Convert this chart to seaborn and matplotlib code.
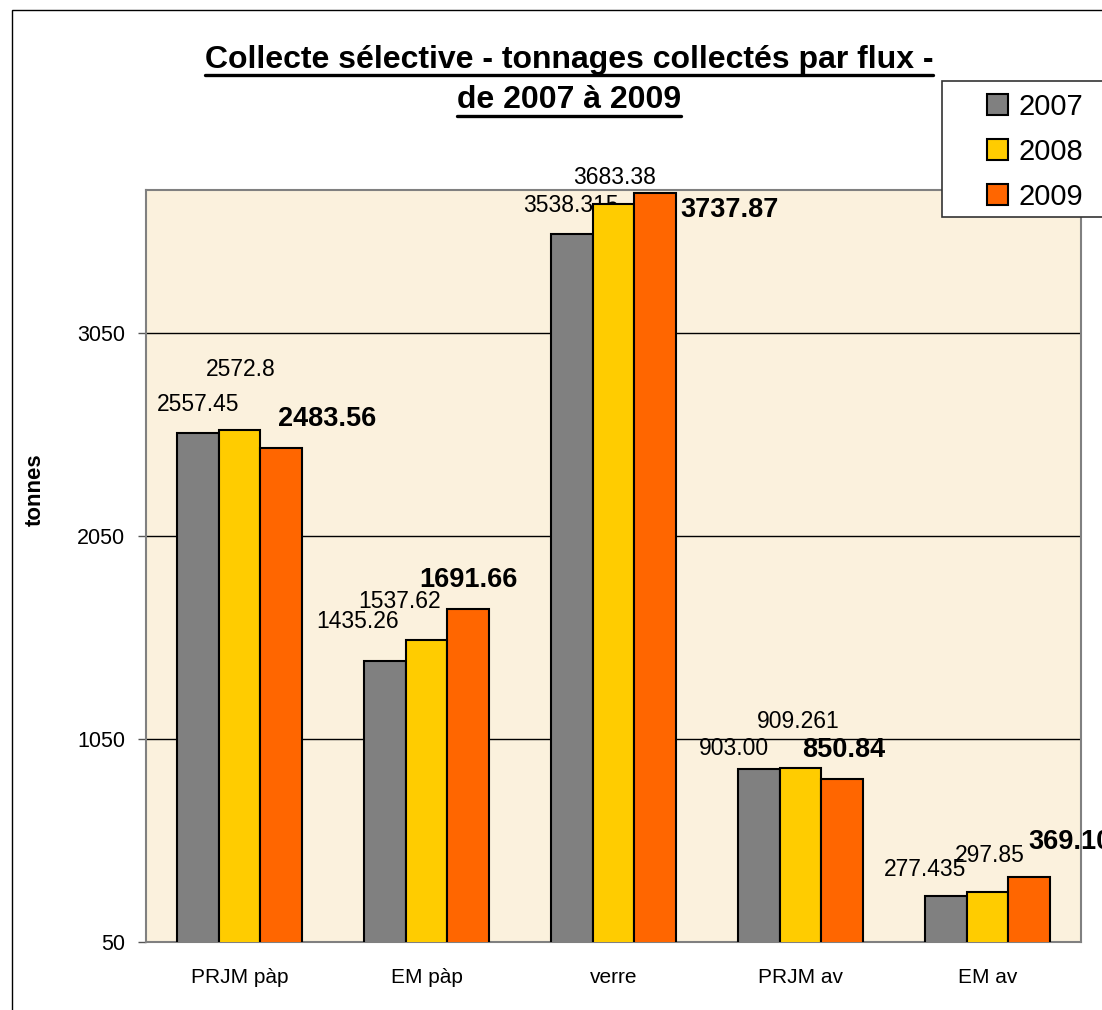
import pandas as pd
import matplotlib.pyplot as plt
import seaborn as sns
from matplotlib.lines import Line2D
from matplotlib.patches import Rectangle

# data
categories = ['PRJM pàp', 'EM pàp', 'verre', 'PRJM av', 'EM av']
years = ['2007', '2008', '2009']
values_2007 = [2557.45, 1435.26, 3538.315, 903.00, 277.435]
values_2008 = [2572.8, 1537.62, 3683.38, 909.261, 297.85]
values_2009 = [2483.56, 1691.66, 3737.87, 850.84, 369.10]
labels_2007 = ['2557.45', '1435.26', '3538.315', '903.00', '277.435']
labels_2008 = ['2572.8', '1537.62', '3683.38', '909.261', '297.85']
labels_2009 = ['2483.56', '1691.66', '3737.87', '850.84', '369.10']
y_ticks = [50, 1050, 2050, 3050]

colors = ['#808080', '#FFCC00', '#FF6600']

# label offsets from bar top (pixels, x right / y down), as placed in the original
offsets = [
    [(0, -28), (-27, -39), (-1, -28), (-25, -20), (-21, -26)],
    [(1, -60), (-27, -38), (1, -27), (-2, -46), (2, -36)],
    [(46, -29), (0, -29), (74, 17), (1, -29), (41, -35)],
]


def build_frame():
    rows = []
    for year, vals in zip(years, [values_2007, values_2008, values_2009]):
        for cat, v in zip(categories, vals):
            rows.append({'flux': cat, 'année': year, 'tonnes': v})
    return pd.DataFrame(rows)


def plot_chart(df):
    sns.set_style('white')
    plt.rcParams['font.family'] = ['Liberation Sans', 'DejaVu Sans']
    plt.rcParams['text.color'] = 'black'
    plt.rcParams['xtick.color'] = 'black'
    plt.rcParams['ytick.color'] = 'black'

    W, H = 1102, 1010
    fig = plt.figure(figsize=(W / 100, H / 100), dpi=100)
    ax = fig.add_axes([146 / W, 1 - 942 / H, (1081 - 146) / W, (942 - 190) / H])
    ax.set_facecolor('#FBF1DD')

    sns.barplot(data=df, x='flux', y='tonnes', hue='année', order=categories,
                hue_order=years, palette=colors, width=0.67, ax=ax,
                edgecolor='black', linewidth=1.5, saturation=1, zorder=3)

    ax.set_ylim(50, 3754)
    ax.set_xlim(-0.5, len(categories) - 0.5)
    ax.set_yticks(y_ticks)
    ax.set_yticklabels([str(t) for t in y_ticks], fontsize=15.5)
    for t in y_ticks[1:]:
        ax.axhline(t, color='black', lw=1, zorder=1)

    ax.set_xticks(range(len(categories)))
    ax.set_xticklabels(categories, fontsize=15)
    ax.set_xticks([i - 0.5 for i in range(len(categories) + 1)], minor=True)
    ax.tick_params(axis='x', which='major', length=0, pad=19)
    ax.tick_params(axis='x', which='minor', length=6, width=1, color='#555555')
    ax.tick_params(axis='y', length=6, width=1, color='#555555', left=True, pad=9)
    ax.set_xlabel('')
    ax.set_ylabel('')
    for s in ax.spines.values():
        s.set_visible(True)
        s.set_color('#808080')
        s.set_linewidth(1.5)

    # data labels
    all_labels = [labels_2007, labels_2008, labels_2009]
    for j, cont in enumerate(ax.containers):
        for i, bar in enumerate(cont):
            dx, dy = offsets[j][i]
            bold = j == 2
            ax.annotate(all_labels[j][i],
                        xy=(bar.get_x() + bar.get_width() / 2, bar.get_height()),
                        xytext=(dx * 0.72, -dy * 0.72), textcoords='offset points',
                        ha='center', va='center', annotation_clip=False,
                        fontsize=19.5 if bold else 16.5,
                        fontweight='bold' if bold else 'normal', zorder=2)

    # legend: box runs off the right edge like the original
    handles, labels = ax.get_legend_handles_labels()
    ax.get_legend().remove()
    fig.add_artist(Rectangle((942 / W, 1 - 217 / H), 0.3, 136 / H, transform=fig.transFigure,
                             facecolor='white', edgecolor='#333333', lw=1.2, zorder=9))
    leg = fig.legend(handles, labels, loc='upper left', bbox_to_anchor=(987 / W, 1 - 93 / H),
                     bbox_transform=fig.transFigure, fontsize=21, frameon=False,
                     borderpad=0, labelspacing=0.58,
                     handlelength=0.72, handleheight=0.72, handletextpad=0.36,
                     borderaxespad=0)
    leg.set_zorder(10)

    fig.text(35 / W, 1 - 490 / H, 'tonnes', rotation=90, fontsize=16,
             fontweight='bold', ha='center', va='center')

    # title, two underlined lines
    t1 = fig.text(569 / W, 1 - 60 / H, 'Collecte sélective - tonnages collectés par flux -',
                  fontsize=23, fontweight='bold', ha='center', va='center')
    t2 = fig.text(569 / W, 1 - 100 / H, 'de 2007 à 2009',
                  fontsize=23, fontweight='bold', ha='center', va='center')
    fig.canvas.draw()
    for t, uy in [(t1, 75), (t2, 116)]:
        bb = t.get_window_extent()
        fig.add_artist(Line2D([bb.x0 / W, bb.x1 / W], [1 - uy / H, 1 - uy / H],
                              transform=fig.transFigure, color='black', lw=2.4))

    # outer chart frame
    fig.add_artist(Rectangle((12 / W, -0.1), 1.2, 1.1 - 10 / H, transform=fig.transFigure,
                             fill=False, edgecolor='black', lw=1, zorder=0))

    fig.savefig('out.png', dpi=100)
    print('Plot saved to out.png')


def main():
    df = build_frame()
    plot_chart(df)


if __name__ == '__main__':
    main()
